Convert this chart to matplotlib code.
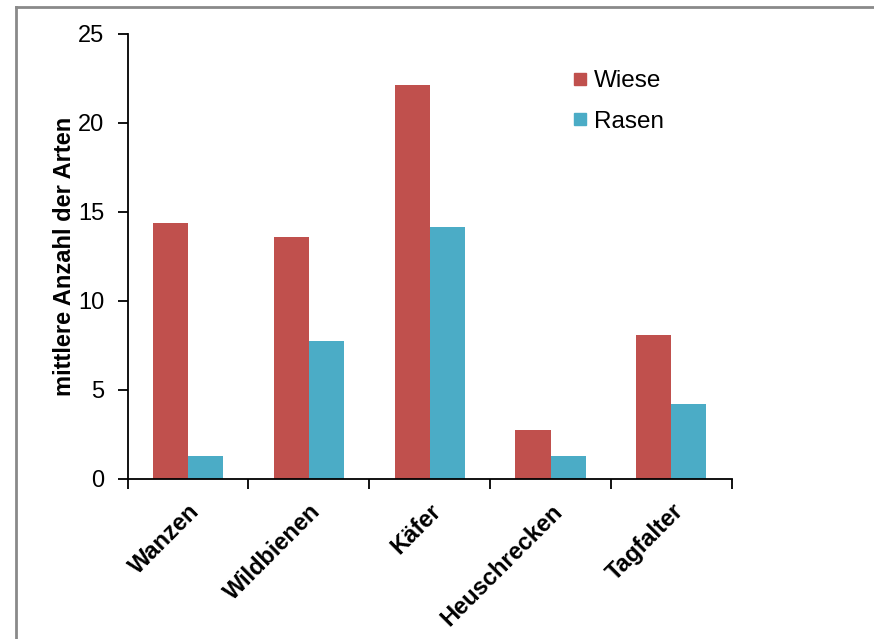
import matplotlib
matplotlib.use("Agg")
import matplotlib.pyplot as plt
import numpy as np
from matplotlib.lines import Line2D

plt.rcParams["font.family"] = ["Liberation Sans", "DejaVu Sans"]

categories = ["Wanzen", "Wildbienen", "Käfer", "Heuschrecken", "Tagfalter"]
wiese = [14.4, 13.6, 22.15, 2.75, 8.1]
rasen = [1.3, 7.75, 14.15, 1.3, 4.2]
series_names = ["Wiese", "Rasen"]
y_ticks = [0, 5, 10, 15, 20, 25]

col_wiese = "#C0504D"
col_rasen = "#4BACC6"

fig = plt.figure(figsize=(8.74, 6.39), dpi=100)
ax = fig.add_axes([0.1459, 0.2504, 0.6914, 0.6964])

x = np.arange(len(categories))
w = 0.29
ax.bar(x - w / 2, wiese, w, color=col_wiese, label=series_names[0])
ax.bar(x + w / 2, rasen, w, color=col_rasen, label=series_names[1])

ax.set_xlim(-0.5, len(categories) - 0.5)
ax.set_ylim(0, 25)
ax.set_yticks(y_ticks)
ax.tick_params(axis="y", direction="out", length=7, width=1.3, labelsize=17, pad=9.5)

# labels at category centres, tick marks at boundaries
ax.set_xticks(x)
ax.set_xticklabels(categories, rotation=45, ha="right", va="top",
                   rotation_mode="anchor", fontsize=17, fontweight="bold")
ax.tick_params(axis="x", which="major", length=0, pad=15)
ax.set_xticks(np.arange(len(categories) + 1) - 0.5, minor=True)
ax.tick_params(axis="x", which="minor", direction="out", length=7, width=1.3)

for s in ["top", "right"]:
    ax.spines[s].set_visible(False)
for s in ["left", "bottom"]:
    ax.spines[s].set_linewidth(1.3)

ax.set_ylabel("mittlere Anzahl der Arten", fontsize=17, fontweight="bold", labelpad=2)

handles = [Line2D([], [], marker="s", linestyle="none", markersize=9, color=c)
           for c in (col_wiese, col_rasen)]
ax.legend(handles, series_names, loc="upper left", bbox_to_anchor=(0.72, 0.94),
          frameon=False, fontsize=17.5, handlelength=0.6, handletextpad=0.3,
          labelspacing=0.75, borderaxespad=0)

# grey frame of the original chart area (top and left only visible)
W, H = 874, 639
fig.add_artist(Line2D([16 / W, 16 / W], [0, 1 - 7 / H], color="#8a8a8a", lw=2))
fig.add_artist(Line2D([16 / W, 1], [1 - 7 / H, 1 - 7 / H], color="#8a8a8a", lw=2))

fig.savefig("out.png", dpi=100)
